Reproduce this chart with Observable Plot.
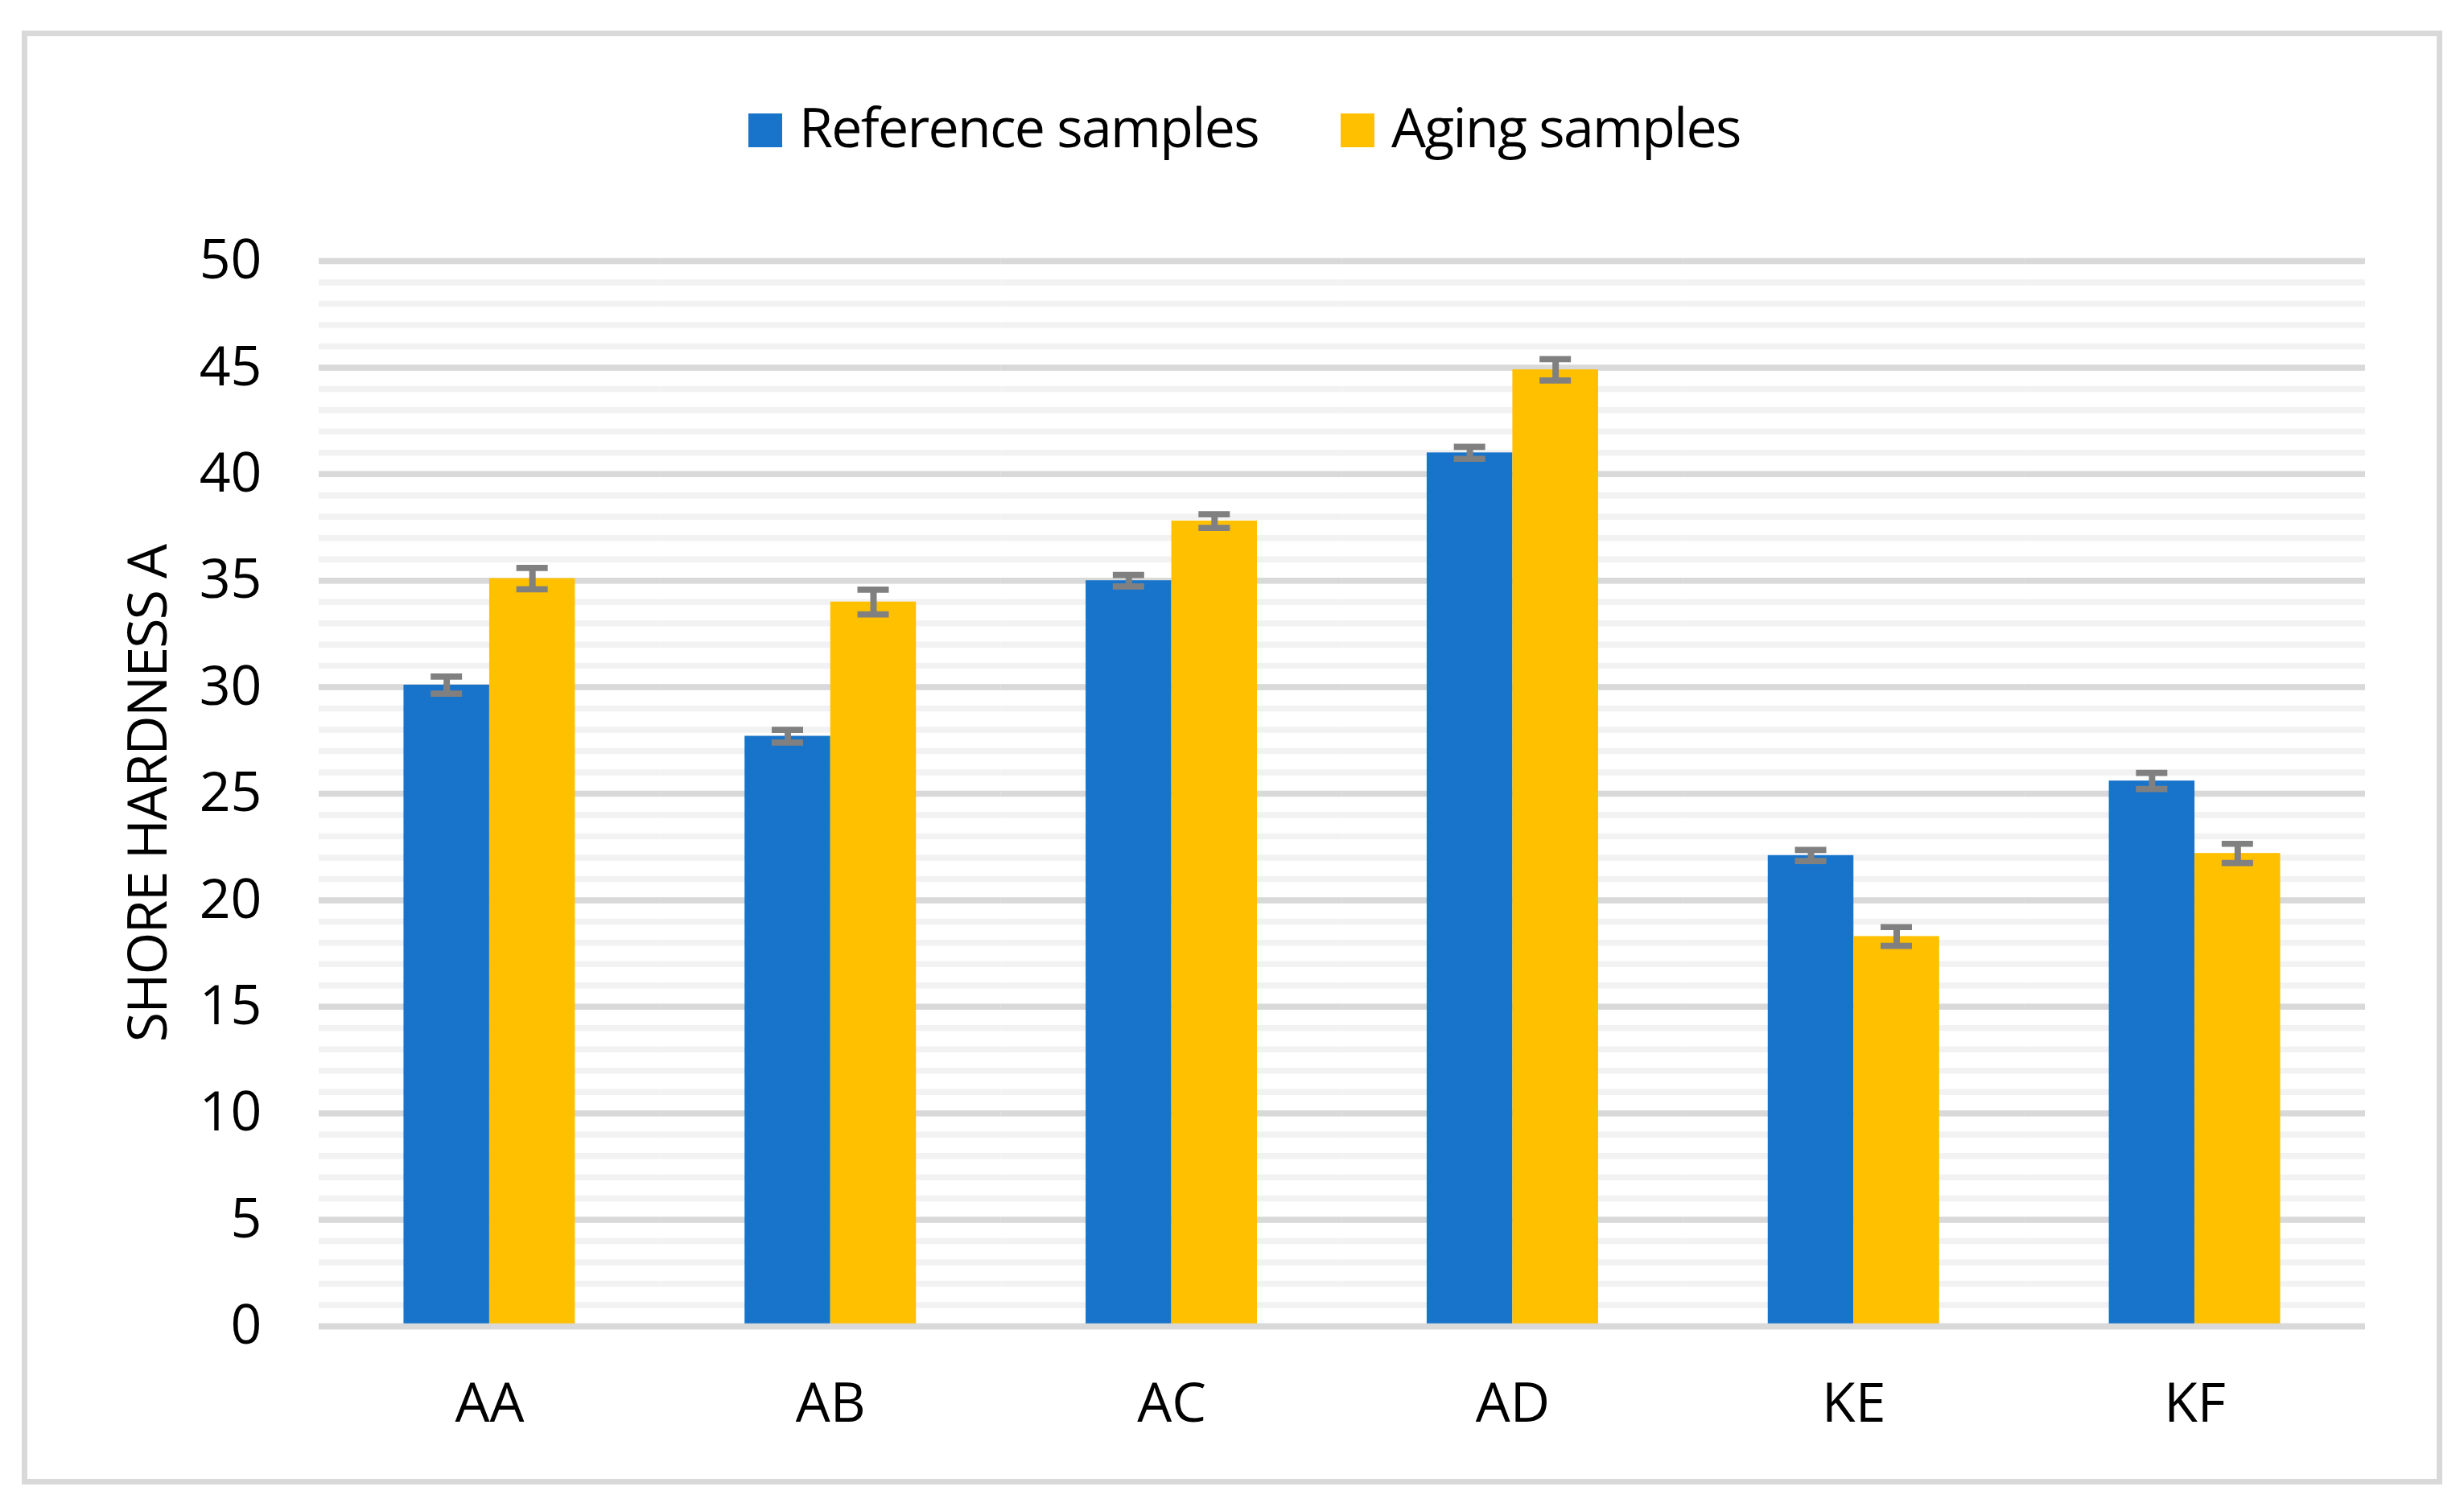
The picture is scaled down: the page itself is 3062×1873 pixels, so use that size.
<!DOCTYPE html>
<html><head><meta charset="utf-8">
<script src="https://cdn.jsdelivr.net/npm/d3@7"></script>
<script src="https://cdn.jsdelivr.net/npm/@observablehq/plot@0.6"></script>
<style>
html,body{margin:0;padding:0;background:#fff;}
body{width:3062px;height:1873px;position:relative;overflow:hidden;font-family:"Open Sans",sans-serif;}
#frame{position:absolute;left:27px;top:38px;width:3008px;height:1807px;border:7px solid #d9d9d9;box-sizing:border-box;pointer-events:none;}
.sw{position:absolute;width:42px;height:42px;top:141px;}
.lt{position:absolute;top:122.6px;font-size:68px;line-height:68px;color:#000;white-space:nowrap;font-family:"Open Sans",sans-serif;letter-spacing:-1.7px;}
#chart{position:absolute;left:0;top:240px;}
#chart svg g[aria-label="y-axis label"] text{letter-spacing:-1.8px;}
</style></head><body>
<div id="legend"></div>
<div id="chart"></div>
<div id="frame"></div>
<script>
const categories = ["AA", "AB", "AC", "AD", "KE", "KF"];
const series = ["Reference samples", "Aging samples"];
const referenceValues = [30.1, 27.7, 35.0, 41.0, 22.1, 25.6];
const referenceErrors = [0.4, 0.3, 0.27, 0.28, 0.26, 0.38];
const agingValues = [35.1, 34.0, 37.8, 44.9, 18.3, 22.2];
const agingErrors = [0.5, 0.58, 0.32, 0.5, 0.44, 0.45];
const yTicks = [0, 5, 10, 15, 20, 25, 30, 35, 40, 45, 50];
const colors = ["#1874CB", "#FFC000"];

const rows = categories.flatMap((c, i) => [
  {category: c, series: series[0], value: referenceValues[i], err: referenceErrors[i]},
  {category: c, series: series[1], value: agingValues[i], err: agingErrors[i]}
]);

// legend
const legend = document.getElementById("legend");
const legendLeft = [930, 1666];
series.forEach((s, i) => {
  const sw = document.createElement("div");
  sw.className = "sw";
  sw.style.left = legendLeft[i] + "px";
  sw.style.background = colors[i];
  legend.appendChild(sw);
  const t = document.createElement("div");
  t.className = "lt";
  t.style.left = (legendLeft[i] + 63) + "px";
  t.textContent = s;
  legend.appendChild(t);
});

const lo = d => d.value - d.err;
const hi = d => d.value + d.err;

const chart = Plot.plot({
  width: 3062,
  height: 1633,
  marginLeft: 396,
  marginRight: 123,
  marginTop: 84,
  marginBottom: 225,
  style: {fontFamily: "Open Sans", fontSize: "68px", color: "#000", background: "transparent"},
  fx: {domain: categories, padding: 0, round: false},
  x: {domain: series, paddingInner: 0, paddingOuter: 0.99, round: false, axis: null},
  y: {domain: [0, 50]},
  color: {domain: series, range: colors},
  marks: [
    Plot.gridY({interval: 1, stroke: "#f2f2f2", strokeOpacity: 1, strokeWidth: 7.5}),
    Plot.gridY({ticks: yTicks, stroke: "#d9d9d9", strokeOpacity: 1, strokeWidth: 7.5}),
    Plot.barY(rows, {fx: "category", x: "series", y: "value", fill: "series"}),
    Plot.ruleY([0], {stroke: "#d9d9d9", strokeWidth: 7.5}),
    Plot.ruleX(rows, {fx: "category", x: "series", y1: lo, y2: hi, stroke: "#808080", strokeWidth: 8}),
    Plot.tickY(rows, {fx: "category", x: "series", y: lo, stroke: "#808080", strokeWidth: 7.7, inset: 33.75}),
    Plot.tickY(rows, {fx: "category", x: "series", y: hi, stroke: "#808080", strokeWidth: 7.7, inset: 33.75}),
    Plot.axisY({ticks: yTicks, tickSize: 0, tickPadding: 71, fontSize: 68, label: "SHORE HARDNESS A", labelAnchor: "center", labelOffset: 238, labelArrow: "none"}),
    Plot.axisFx({anchor: "bottom", tickSize: 0, tickPadding: 70, fontSize: 68, label: null})
  ]
});
document.getElementById("chart").appendChild(chart);
</script>
</body></html>
